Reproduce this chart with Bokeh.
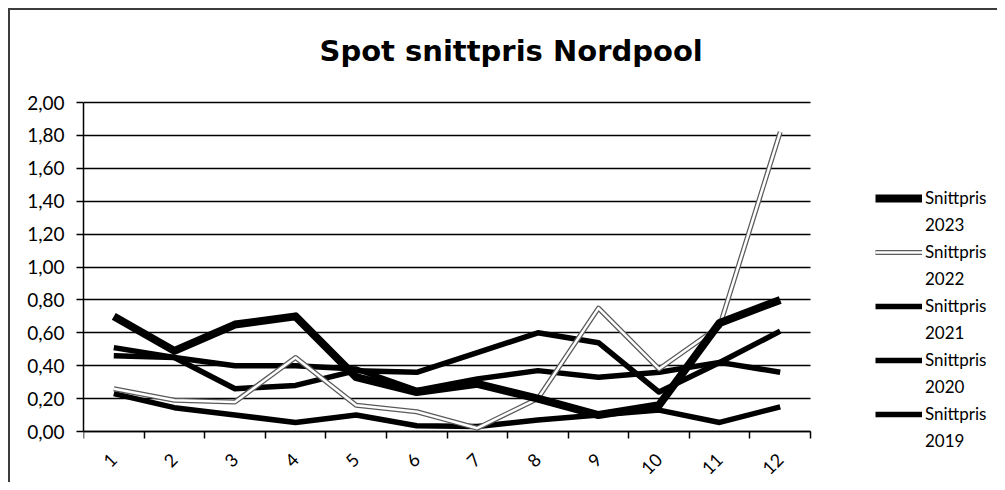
from bokeh.plotting import figure
from bokeh.models import (Range1d, FixedTicker, CustomJSTickFormatter, Legend, LegendItem, Title)
from bokeh.embed import file_html
from bokeh.resources import INLINE
import math

months = [1, 2, 3, 4, 5, 6, 7, 8, 9, 10, 11, 12]
month_labels = ["1", "2", "3", "4", "5", "6", "7", "8", "9", "10", "11", "12"]
s2023 = [0.70, 0.49, 0.65, 0.70, 0.33, 0.24, 0.29, 0.20, 0.10, 0.16, 0.66, 0.80]
s2022 = [0.26, 0.19, 0.18, 0.45, 0.16, 0.12, 0.02, 0.20, 0.75, 0.38, 0.64, 1.82]
s2021 = [0.51, 0.45, 0.26, 0.28, 0.37, 0.36, 0.48, 0.60, 0.54, 0.24, 0.42, 0.61]
s2020 = [0.23, 0.145, 0.10, 0.055, 0.10, 0.035, 0.03, 0.07, 0.10, 0.13, 0.055, 0.15]
s2019 = [0.46, 0.45, 0.40, 0.40, 0.38, 0.25, 0.32, 0.37, 0.33, 0.36, 0.42, 0.36]
y_ticks = [0.0, 0.2, 0.4, 0.6, 0.8, 1.0, 1.2, 1.4, 1.6, 1.8, 2.0]
title_text = "Spot snittpris Nordpool"
legend_name = "Snittpris"
legend_years = ["2023", "2022", "2021", "2020", "2019"]

FONT = "Lato"

# layout geometry (pixels)
W, H = 989, 474
LEFT, TOP = 73, 60
PLOT_TOP = 92         # distance from figure top to the 2,00 line
PLOT_W = 727          # width of the 12 month slots
PLOT_H = 329          # height from 0,00 to 2,00
x_lo = months[0] - 0.5
x_hi = months[-1] + 0.5
px_per_x = PLOT_W / (x_hi - x_lo)
px_per_y = PLOT_H / 2.0
frame_w = W - LEFT
frame_h = H - TOP
y_top = 2.0 + (PLOT_TOP - TOP) / px_per_y
y_bot = y_top - frame_h / px_per_y

p = figure(width=W, height=H, output_backend="svg", toolbar_location=None,
           x_range=Range1d(x_lo, x_lo + frame_w / px_per_x), y_range=Range1d(y_bot, y_top),
           min_border_left=LEFT, min_border_right=0, min_border_top=TOP, min_border_bottom=0,
           title=None)
p.styles = {"margin-left": "8px", "margin-top": "8px",
            "border-left": "2px solid #3c3c3c", "border-top": "2px solid #3c3c3c"}
p.outline_line_color = None
p.background_fill_color = "white"
p.border_fill_color = "white"

t = Title(text=title_text, align="left", offset=236, vertical_align="top",
          text_font="DejaVu Sans", text_font_size="29px",
          text_font_style="bold", text_color="black", standoff=2)
p.add_layout(t, "above")

# x axis at y = 0
p.xaxis.fixed_location = 0
p.xaxis.bounds = (x_lo, x_hi)
p.xaxis.ticker = FixedTicker(ticks=months, minor_ticks=[m - 0.5 for m in months] + [x_hi])
p.xaxis.major_label_overrides = {m: l for m, l in zip(months, month_labels)}
p.xaxis.major_tick_out = 0
p.xaxis.major_tick_in = 0
p.xaxis.minor_tick_out = 7
p.xaxis.minor_tick_in = 0
p.xaxis.minor_tick_line_color = "black"
p.xaxis.minor_tick_line_width = 1.5
p.xaxis.axis_line_color = "black"
p.xaxis.axis_line_width = 1.5
p.xaxis.major_label_orientation = math.pi / 4
p.xaxis.major_label_text_font = FONT
p.xaxis.major_label_text_font_size = "18px"
p.xaxis.major_label_text_color = "black"
p.xaxis.major_label_standoff = 18

p.yaxis.bounds = (0, 2.0)
p.yaxis.ticker = FixedTicker(ticks=y_ticks)
p.yaxis.formatter = CustomJSTickFormatter(code="return tick.toFixed(2).replace('.', ',');")
p.yaxis.major_tick_out = 7
p.yaxis.major_tick_in = 0
p.yaxis.minor_tick_out = 0
p.yaxis.minor_tick_in = 0
p.yaxis.major_tick_line_color = "black"
p.yaxis.major_tick_line_width = 1.5
p.yaxis.axis_line_color = "black"
p.yaxis.axis_line_width = 1.5
p.yaxis.major_label_text_font = FONT
p.yaxis.major_label_text_font_size = "19px"
p.yaxis.major_label_text_color = "black"
p.yaxis.major_label_standoff = 12

p.xgrid.grid_line_color = None
grid = p.ygrid[0]
if "cross_bounds" in grid.properties():
    grid.ticker = FixedTicker(ticks=y_ticks)
    grid.cross_bounds = (x_lo, x_hi)
    grid.grid_line_color = "black"
    grid.grid_line_width = 1.3
else:
    grid.grid_line_color = None
    p.segment(x0=[x_lo] * len(y_ticks), x1=[x_hi] * len(y_ticks), y0=y_ticks, y1=y_ticks,
              line_color="black", line_width=1.3)

# series
styles = {
    "2023": [dict(line_color="black", line_width=8)],
    "2022": [dict(line_color="#5a5a5a", line_width=5), dict(line_color="white", line_width=2.5)],
    "2021": [dict(line_color="black", line_width=5.5)],
    "2020": [dict(line_color="black", line_width=5.5)],
    "2019": [dict(line_color="black", line_width=5.5)],
}
data = {"2023": s2023, "2022": s2022, "2021": s2021, "2020": s2020, "2019": s2019}
rends = {}
for yr in ["2019", "2020", "2021", "2022", "2023"]:
    rends[yr] = [p.line(months, data[yr], line_join="round", **st) for st in styles[yr]]

items = []
for yr in legend_years:
    blank = p.line([], [], line_alpha=0)
    items.append(LegendItem(label=legend_name, renderers=rends[yr]))
    items.append(LegendItem(label=yr, renderers=[blank]))
legend = Legend(items=items, location=(792, 33))
legend.border_line_color = None
legend.background_fill_alpha = 0
legend.label_text_font = FONT
legend.label_text_font_size = "17px"
legend.label_text_color = "black"
legend.glyph_width = 47
legend.glyph_height = 20
legend.label_height = 20
legend.label_standoff = 3
legend.spacing = 6
legend.padding = 0
legend.margin = 0
p.add_layout(legend, "center")

open("out.html", "w").write(file_html(p, INLINE))
